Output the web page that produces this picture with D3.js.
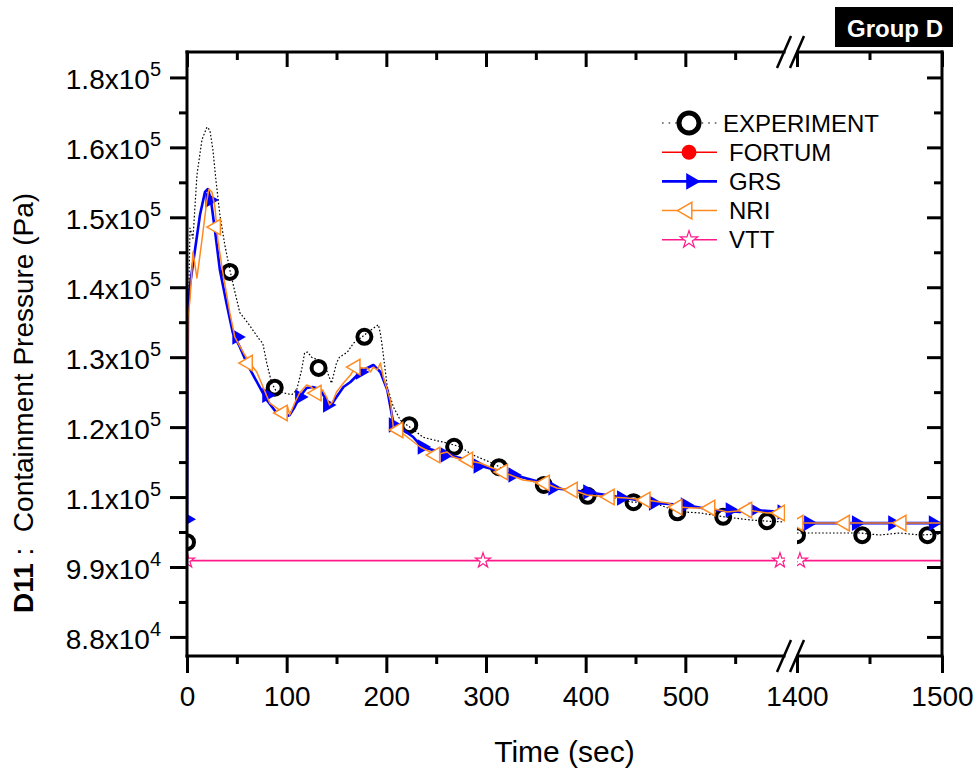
<!DOCTYPE html>
<html><head><meta charset="utf-8">
<script src="https://cdn.jsdelivr.net/npm/d3@7"></script>
<style>
body{margin:0;background:#fff}
svg{display:block}
text{font-family:"Liberation Sans",Arial,sans-serif;fill:#000}
</style>
</head><body>
<svg id="c" width="980" height="769"></svg>
<script>
// ---------- data ----------
const xTicksLeft = [0,100,200,300,400,500];
const xMinorLeft = [50,150,250,350,450,550];
const xTicksRight = [1400,1500];
const xMinorRight = [1450];
const yTickValues = [88000,99000,110000,121000,132000,143000,154000,165000,176000];
const yTickMant = ["8.8","9.9","1.1","1.2","1.3","1.4","1.5","1.6","1.8"];
const yTickExp = ["4","4","5","5","5","5","5","5","5"];
const yMinor = [93500,104500,115500,126500,137500,148500,159500,170500];

const seriesNames = ["EXPERIMENT","FORTUM","GRS","NRI","VTT"];

// EXPERIMENT (line)
const expT = [0,1,3,6,10,15,20,23,26,29,33,38,43,48,53,61,73,76,80,85,89,96,105,110,115,118,121,125,131,137,140,145,150,153,161,167,174,182,192,194,196,201,207,214,227,237,247,261,274,287,304,324,337,358,381,401,427,447,468,493,515,538,565,583,598,1400,1443,1457,1471,1485,1500];
const expV = [102900,135000,152300,150700,160700,166200,168200,167700,164600,159900,154400,149600,145700,142300,139000,137400,134700,134200,131100,127900,126800,126400,126100,126800,130000,132700,132800,132000,131600,130800,130000,127900,131100,132000,132800,134200,135000,136000,137100,135800,133600,127300,124200,122100,120600,119400,119000,118500,117900,116600,115500,113900,113000,111900,111100,110300,109900,109200,109100,107700,107500,106900,106400,106200,106100,104350,104350,104030,104350,104030,104200];
// EXPERIMENT (symbols)
const expMarkT = [0,43,88,132,178,223,268,313,358,402,448,492,538,582,1400,1445,1490];
const expMarkV = [102900,145400,127200,130300,135200,121300,117900,114700,111900,110200,109200,107600,106900,106200,104000,104000,104000];

// GRS
const grsT = [0,1,3,8,13,18,21,24,28,33,40,46,53,60,68,80,90,98,103,108,113,120,126,133,140,141,146,150,157,164,174,181,187,194,201,207,214,227,236,247,261,274,291,321,354,367,401,434,468,500,528,555,568,598,1400,1500];
const grsV = [106500,140000,143350,148860,154360,157980,158450,156720,152000,145710,140200,135800,133600,131080,128720,125260,123220,122590,122900,124160,125730,127150,127310,127000,125260,124160,124790,125730,127310,128100,129670,130300,130770,129670,126840,121650,120860,119440,117870,117400,116610,116140,115040,113780,112370,111420,110790,110010,109060,108750,107960,107650,107960,107650,105900,105900];
const grsMarkT = [0,23,50,80,113,141,174,207,236,259,292,327,367,402,436,468,500,545,568,597,1408,1441,1466,1494];
const grsMarkV = [106500,156720,135170,126000,125730,124480,129670,121330,117870,116610,114880,113470,111420,110790,109850,109060,108750,107960,107960,107650,105900,105900,105900,105900];

// NRI
const nriT = [0,1,3,6,10,15,20,22,25,28,31,36,43,48,58,63,70,83,93,96,101,103,108,113,120,125,130,136,140,143,146,150,157,164,169,174,181,184,187,191,194,197,204,207,212,221,234,244,249,261,267,277,294,304,317,337,359,371,387,401,424,441,460,482,492,508,525,542,562,582,600,1400,1500];
const nriV = [107000,138320,141000,148540,144450,150430,156720,158450,157980,155620,150430,145240,138950,135170,132340,131080,129670,124790,123690,123220,124160,122900,124790,126360,127620,127310,126360,126840,125730,124480,124950,126520,127940,129200,130450,130300,130300,129670,130450,129980,131080,128880,125260,120860,120550,119440,117870,117090,116610,117090,116300,115830,115350,114730,113940,112680,112210,111420,111110,110320,110010,109850,109540,109060,108430,108280,108280,107650,107960,107490,107490,105900,105900];
const nriMarkT = [29,61,96,130,169,212,249,282,317,359,387,424,460,492,525,562,595,1401,1433,1472];
const nriMarkV = [152470,131080,123220,126360,130450,120550,116610,115830,113940,112210,111110,110010,109540,108430,108280,107960,107490,105900,105900,105900];

// VTT
const vttT = [0,600,1400,1500];
const vttV = [100000,100000,100000,100000];
const vttMarkT = [0,297,595,1402];
const vttMarkV = [100000,100000,100000,100000];

// FORTUM: no curve visible in the chart (legend entry only)
const fortumT = [];
const fortumV = [];

// ---------- layout ----------
const svg = d3.select("#c");
const L = 187, R = 942, T = 52, B = 656;
const breakL = 785, breakR = 797;
const xL = d3.scaleLinear().domain([0,600]).range([L, breakL]);
const xR = d3.scaleLinear().domain([1400,1500]).range([breakR, R]);
const y = d3.scaleLinear().domain([85000,180000]).range([B, T]);

const defs = svg.append("defs");
defs.append("clipPath").attr("id","clipL").append("rect").attr("x",L).attr("y",T).attr("width",breakL-L).attr("height",B-T);
defs.append("clipPath").attr("id","clipR").append("rect").attr("x",breakR).attr("y",T).attr("width",R-breakR).attr("height",B-T);

const zip = (ts, vs) => ts.map((t,i)=>({t, v:vs[i]}));
const segs = [
  {x:xL, clip:"url(#clipL)", f:d=>d.t<=600},
  {x:xR, clip:"url(#clipR)", f:d=>d.t>=1400}
];

const triSym = d3.symbol().type(d3.symbolTriangle).size(105);
const triSymLeg = d3.symbol().type(d3.symbolTriangle).size(120);
const starSym = d3.symbol().type(d3.symbolStar).size(70);
const starSymLeg = d3.symbol().type(d3.symbolStar).size(95);

const C = {exp:"#000", fortum:"#ff0000", grs:"#0000ff", nri:"#ff8a1f", vtt:"#ff1a8c"};

function drawLine(g, seg, data, style){
  const dd = data.filter(seg.f);
  if (dd.length < 2) return;
  g.append("path").datum(dd)
    .attr("d", d3.line().x(d=>seg.x(d.t)).y(d=>y(d.v)))
    .attr("fill","none").attr("stroke",style.stroke).attr("stroke-width",style.w)
    .attr("stroke-dasharray",style.dash||null).attr("stroke-linejoin","round");
}

segs.forEach(seg=>{
  const g = svg.append("g").attr("clip-path", seg.clip);
  // EXPERIMENT
  drawLine(g, seg, zip(expT,expV), {stroke:C.exp, w:1.2, dash:"1.6,2"});
  g.selectAll(null).data(zip(expMarkT,expMarkV).filter(seg.f)).join("circle")
    .attr("cx",d=>seg.x(d.t)).attr("cy",d=>y(d.v)).attr("r",7)
    .attr("fill","#fff").attr("fill-opacity",0).attr("stroke","#000").attr("stroke-width",4);
  // FORTUM
  drawLine(g, seg, zip(fortumT,fortumV), {stroke:C.fortum, w:1.5});
  // GRS
  drawLine(g, seg, zip(grsT,grsV), {stroke:C.grs, w:2.6});
  g.selectAll(null).data(zip(grsMarkT,grsMarkV).filter(seg.f)).join("path")
    .attr("d", triSym).attr("transform",d=>`translate(${seg.x(d.t)},${y(d.v)}) rotate(90)`)
    .attr("fill",C.grs);
  // NRI
  drawLine(g, seg, zip(nriT,nriV), {stroke:C.nri, w:1.5});
  g.selectAll(null).data(zip(nriMarkT,nriMarkV).filter(seg.f)).join("path")
    .attr("d", triSym).attr("transform",d=>`translate(${seg.x(d.t)},${y(d.v)}) rotate(-90)`)
    .attr("fill","#fff").attr("stroke",C.nri).attr("stroke-width",1.5);
  // VTT
  drawLine(g, seg, zip(vttT,vttV), {stroke:C.vtt, w:1.6});
  g.selectAll(null).data(zip(vttMarkT,vttMarkV).filter(seg.f)).join("path")
    .attr("d", starSym).attr("transform",d=>`translate(${seg.x(d.t)},${y(d.v)})`)
    .attr("fill","#fff").attr("stroke",C.vtt).attr("stroke-width",1.2);
});

// ---------- axes ----------
function styleAxis(g){
  g.select(".domain").remove();
  g.selectAll(".tick line").attr("stroke","#000").attr("stroke-width",3);
  g.selectAll(".tick text").attr("font-size",28).attr("font-family","'Liberation Sans',Arial,sans-serif");
}
// bottom
[[xL,xTicksLeft,xMinorLeft],[xR,xTicksRight,xMinorRight]].forEach(([xs,maj,min])=>{
  const gb = svg.append("g").attr("transform",`translate(0,${B})`)
    .call(d3.axisBottom(xs).tickValues(maj).tickSize(17).tickPadding(13).tickFormat(d3.format("d")));
  styleAxis(gb);
  const gbm = svg.append("g").attr("transform",`translate(0,${B})`)
    .call(d3.axisBottom(xs).tickValues(min).tickSize(8).tickFormat(""));
  styleAxis(gbm);
  const gt = svg.append("g").attr("transform",`translate(0,${T})`)
    .call(d3.axisTop(xs).tickValues(maj).tickSize(-15).tickFormat(""));
  styleAxis(gt);
  const gtm = svg.append("g").attr("transform",`translate(0,${T})`)
    .call(d3.axisTop(xs).tickValues(min).tickSize(-8).tickFormat(""));
  styleAxis(gtm);
});
// left
const gy = svg.append("g").attr("transform",`translate(${L},0)`)
  .call(d3.axisLeft(y).tickValues(yTickValues).tickSize(17).tickFormat((d,i)=>yTickMant[i]));
styleAxis(gy);
gy.selectAll(".tick text").each(function(d,i){
  const t = d3.select(this);
  t.text(null).attr("x",-26).attr("dy",null).attr("y",11.5).attr("text-anchor","end");
  t.append("tspan").text(yTickMant[i]+"x10");
  t.append("tspan").attr("dy",-13).attr("font-size",20).text(yTickExp[i]);
});
const gym = svg.append("g").attr("transform",`translate(${L},0)`)
  .call(d3.axisLeft(y).tickValues(yMinor).tickSize(8).tickFormat(""));
styleAxis(gym);
// right
const gr = svg.append("g").attr("transform",`translate(${R},0)`)
  .call(d3.axisRight(y).tickValues(yTickValues).tickSize(-15).tickFormat(""));
styleAxis(gr);
const grm = svg.append("g").attr("transform",`translate(${R},0)`)
  .call(d3.axisRight(y).tickValues(yMinor).tickSize(-8).tickFormat(""));
styleAxis(grm);

// frame
const fr = svg.append("g").attr("stroke","#000").attr("stroke-width",3).attr("stroke-linecap","square");
fr.append("line").attr("x1",L).attr("x2",L).attr("y1",T).attr("y2",B);
fr.append("line").attr("x1",R).attr("x2",R).attr("y1",T).attr("y2",B);
[T,B].forEach(yy=>{
  fr.append("line").attr("x1",L).attr("x2",breakL-1).attr("y1",yy).attr("y2",yy);
  fr.append("line").attr("x1",breakR+1).attr("x2",R).attr("y1",yy).attr("y2",yy);
  // break slashes
  [[777,791],[790,804]].forEach(([a,b])=>{
    fr.append("line").attr("x1",a).attr("y1",yy+16).attr("x2",b).attr("y2",yy-16)
      .attr("stroke-width",2.5).attr("stroke-linecap","butt");
  });
});

// axis titles
svg.append("text").attr("x",(L+R)/2).attr("y",762).attr("text-anchor","middle")
  .attr("font-size",30).text("Time (sec)");
const yt = svg.append("text").attr("transform","translate(33,403) rotate(-90)")
  .attr("text-anchor","middle").attr("font-size",28).style("white-space","pre");
yt.append("tspan").attr("font-weight","bold").text("D11");
yt.append("tspan").text(" :  Containment Pressure (Pa)");

// group label
svg.append("rect").attr("x",835).attr("y",7).attr("width",118).attr("height",40).attr("fill","#000");
svg.append("text").attr("x",847).attr("y",37).attr("font-size",24).attr("font-weight","bold")
  .style("fill","#fff").text("Group D");

// legend
const leg = svg.append("g");
seriesNames.forEach((name,i)=>{
  const cy = 123 + i*29.2;
  const g = leg.append("g");
  if (i===0){
    g.append("line").attr("x1",662).attr("x2",717).attr("y1",cy).attr("y2",cy)
      .attr("stroke","#000").attr("stroke-width",1.2).attr("stroke-dasharray","1.6,5");
    g.append("circle").attr("cx",689).attr("cy",cy).attr("r",10)
      .attr("fill","#fff").attr("stroke","#000").attr("stroke-width",5);
  } else {
    const col = [null,C.fortum,C.grs,C.nri,C.vtt][i];
    g.append("line").attr("x1",662).attr("x2",717).attr("y1",cy).attr("y2",cy)
      .attr("stroke",col).attr("stroke-width",i===2?2.6:1.5);
    if (i===1) g.append("circle").attr("cx",689).attr("cy",cy).attr("r",7.5).attr("fill",col);
    if (i===2) g.append("path").attr("d",triSymLeg).attr("transform",`translate(691,${cy}) rotate(90)`).attr("fill",col);
    if (i===3) g.append("path").attr("d",triSymLeg).attr("transform",`translate(687,${cy}) rotate(-90)`).attr("fill","#fff").attr("stroke",col).attr("stroke-width",1.5);
    if (i===4) g.append("path").attr("d",starSymLeg).attr("transform",`translate(689,${cy})`).attr("fill","#fff").attr("stroke",col).attr("stroke-width",1.2);
  }
  g.append("text").attr("x", i===0?723:729).attr("y",cy+8.5).attr("font-size",24).text(name);
});
</script>
</body></html>
